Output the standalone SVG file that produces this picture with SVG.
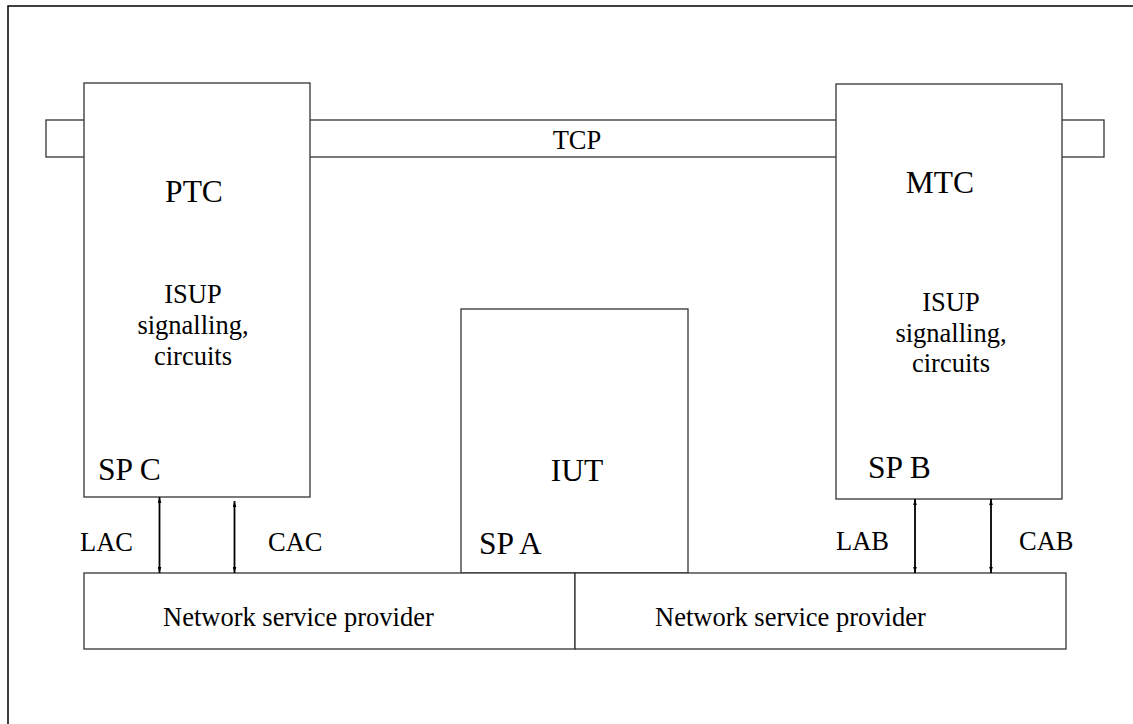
<svg xmlns="http://www.w3.org/2000/svg" width="1133" height="724" viewBox="0 0 1133 724">
<style>
.box{fill:#fff;stroke:#333;stroke-width:1.3}
.frame{fill:none;stroke:#000;stroke-width:1.5}
.big{font-family:"Liberation Serif","Times New Roman",serif;font-size:31.5px;fill:#000}
.sm{font-family:"Liberation Serif","Times New Roman",serif;font-size:26.5px;fill:#000}
.mid{text-anchor:middle}
.arr{stroke:#000;stroke-width:1.8;fill:none;marker-start:url(#ah);marker-end:url(#ah)}
</style>
<defs>
<marker id="ah" viewBox="0 0 10 6" refX="10" refY="3" markerWidth="6" markerHeight="4" markerUnits="userSpaceOnUse" orient="auto-start-reverse">
<path d="M0,0 L10,3 L0,6 z" fill="#000"/>
</marker>
</defs>
<rect width="1133" height="724" fill="#fff"/>
<path class="frame" d="M8,730 L8,6 L1140,6"/>
<g id="tcp">
<rect class="box" x="46" y="120" width="1058" height="37"/>
<text class="sm mid" x="577" y="149">TCP</text>
</g>
<g id="ptc">
<rect class="box" x="84" y="83" width="226" height="414"/>
<text class="big mid" x="194" y="202">PTC</text>
<text class="sm mid" x="193" y="303">ISUP</text>
<text class="sm mid" x="193" y="334">signalling,</text>
<text class="sm mid" x="193" y="365">circuits</text>
<text class="big" x="98" y="480">SP C</text>
</g>
<g id="mtc">
<rect class="box" x="836" y="84" width="226" height="415"/>
<text class="big mid" x="940" y="193">MTC</text>
<text class="sm mid" x="951" y="311">ISUP</text>
<text class="sm mid" x="951" y="342">signalling,</text>
<text class="sm mid" x="951" y="372">circuits</text>
<text class="big" x="868" y="478">SP B</text>
</g>
<g id="iut">
<rect class="box" x="461" y="309" width="227" height="264"/>
<text class="big mid" x="577" y="481">IUT</text>
<text class="big" x="479" y="554">SP A</text>
</g>
<g id="nsp-left">
<rect class="box" x="84" y="573" width="491" height="76"/>
<text class="sm" x="163" y="626">Network service provider</text>
</g>
<g id="nsp-right">
<rect class="box" x="575" y="573" width="491" height="76"/>
<text class="sm" x="655" y="626">Network service provider</text>
</g>
<g id="connectors">
<line class="arr" x1="159.5" y1="497" x2="159.5" y2="573"/>
<line class="arr" x1="234.5" y1="501" x2="234.5" y2="573"/>
<line class="arr" x1="915" y1="499" x2="915" y2="573"/>
<line class="arr" x1="991" y1="499" x2="991" y2="573"/>
<text class="sm" x="80" y="551">LAC</text>
<text class="sm" x="268" y="551">CAC</text>
<text class="sm" x="836" y="550">LAB</text>
<text class="sm" x="1019" y="550">CAB</text>
</g>
</svg>
